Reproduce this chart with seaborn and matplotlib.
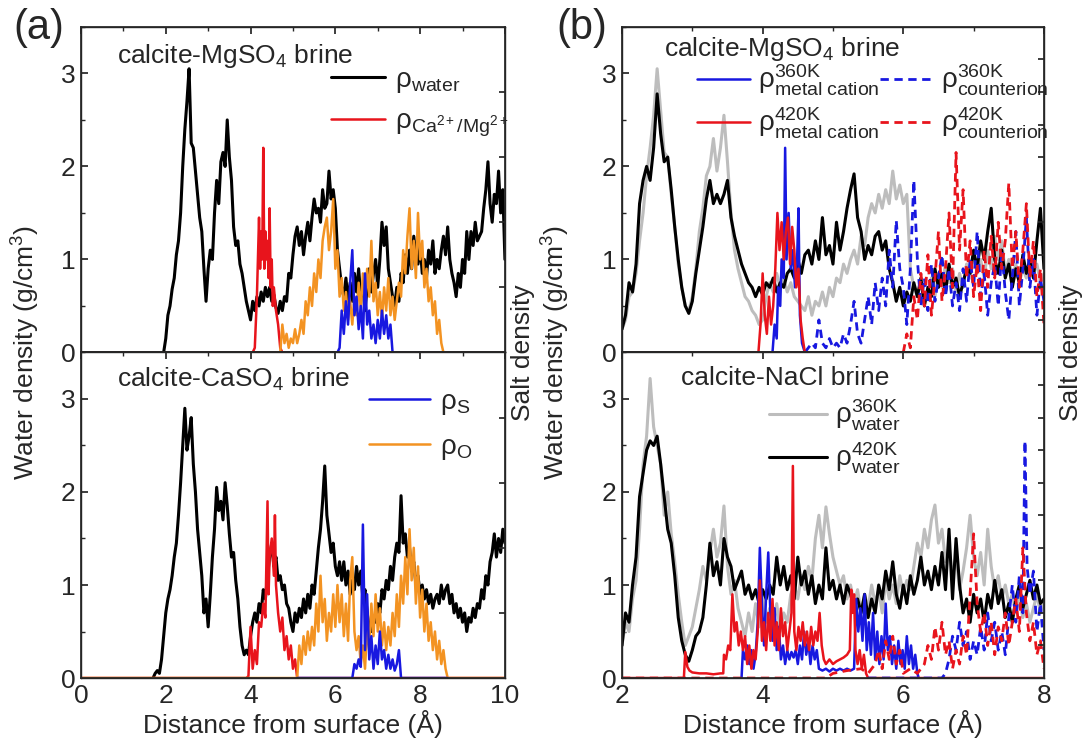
import numpy as np
import matplotlib
matplotlib.use("Agg")
import matplotlib.pyplot as plt
import seaborn as sns

# ---------------- panel (a): calcite-MgSO4 brine ----------------
a_mg_water_x = [1.95, 2.0, 2.05, 2.1, 2.15, 2.2, 2.25, 2.3, 2.35, 2.4, 2.45, 2.5, 2.55, 2.6, 2.65, 2.7, 2.75, 2.8, 2.85, 2.9,
                2.95, 3.0, 3.05, 3.1, 3.15, 3.2, 3.25, 3.3, 3.35, 3.4, 3.45, 3.5, 3.55, 3.6, 3.65, 3.7, 3.75, 3.8, 3.85, 3.9,
                3.95, 4.0, 4.05, 4.1, 4.15, 4.2, 4.25, 4.3, 4.35, 4.4, 4.45, 4.5, 4.55, 4.6, 4.65, 4.7, 4.75, 4.8, 4.85, 4.9,
                4.95, 5.0, 5.05, 5.1, 5.15, 5.2, 5.25, 5.3, 5.35, 5.4, 5.45, 5.5, 5.55, 5.6, 5.65, 5.7, 5.75, 5.8, 5.85, 5.9,
                5.95, 6.0, 6.05, 6.1, 6.15, 6.2, 6.25, 6.3, 6.35, 6.4, 6.45, 6.5, 6.55, 6.6, 6.65, 6.7, 6.75, 6.8, 6.85, 6.9,
                6.95, 7.0, 7.05, 7.1, 7.15, 7.2, 7.25, 7.3, 7.35, 7.4, 7.45, 7.5, 7.55, 7.6, 7.65, 7.7, 7.75, 7.8, 7.85, 7.9,
                7.95, 8.0, 8.05, 8.1, 8.15, 8.2, 8.25, 8.3, 8.35, 8.4, 8.45, 8.5, 8.55, 8.6, 8.65, 8.7, 8.75, 8.8, 8.85, 8.9,
                8.95, 9.0, 9.05, 9.1, 9.15, 9.2, 9.25, 9.3, 9.35, 9.4, 9.45, 9.5, 9.55, 9.6, 9.65, 9.7, 9.75, 9.8, 9.85, 9.9,
                9.95, 10.0]
a_mg_water_y = [0.0, 0.15, 0.4, 0.5, 0.68, 0.8, 1.05, 1.2, 1.5, 2.0, 2.4, 2.7, 3.05, 2.25, 2.2, 1.95, 1.7, 1.45, 1.3, 0.9,
                0.55, 0.9, 1.1, 1.0, 1.5, 1.85, 1.6, 2.05, 2.15, 2.0, 2.5, 2.1, 1.85, 1.35, 1.15, 1.2, 0.95, 0.85, 0.7, 0.55,
                0.45, 0.35, 0.55, 0.45, 0.6, 0.5, 0.65, 0.55, 0.7, 0.6, 0.7, 0.55, 0.62, 0.48, 0.42, 0.55, 0.45, 0.6, 0.55, 0.85,
                0.8, 1.05, 1.25, 1.35, 1.15, 1.3, 1.05, 1.25, 1.4, 1.2, 1.45, 1.65, 1.5, 1.55, 1.4, 1.75, 1.55, 1.6, 1.95, 1.65,
                1.75, 1.55, 1.1, 0.9, 0.7, 0.6, 0.8, 0.55, 0.75, 0.55, 0.85, 0.65, 0.9, 0.6, 0.7, 0.45, 0.7, 0.9, 0.65, 0.85,
                1.0, 0.7, 1.0, 1.4, 1.15, 1.35, 0.9, 0.75, 0.6, 0.5, 0.7, 0.55, 0.85, 0.75, 1.05, 0.85, 1.1, 0.9, 1.25, 1.05,
                0.95, 1.15, 0.85, 1.0, 0.8, 1.1, 0.95, 1.2, 0.85, 1.0, 0.9, 1.1, 1.25, 1.05, 1.35, 1.0, 0.85, 0.75, 0.6, 0.85,
                0.7, 1.0, 0.85, 1.3, 1.0, 1.3, 1.15, 1.4, 1.2, 1.25, 1.3, 1.55, 1.75, 2.05, 1.6, 1.4, 1.7, 1.6, 1.95, 1.5,
                1.75, 1.0]

a_mg_cation_x = [0.0, 4.05, 4.1, 4.15, 4.2, 4.225, 4.25, 4.275, 4.3, 4.325, 4.35, 4.375, 4.4, 4.425, 4.45, 4.475, 4.5,
                 4.525, 4.55, 4.6, 4.65, 4.7, 4.75, 10.0]
a_mg_cation_y = [0.0, 0.0, 0.05, 0.6, 1.45, 0.9, 1.3, 1.0, 2.2, 0.9, 1.3, 1.0, 1.2, 0.8, 1.55, 0.7, 1.0,
                 0.5, 0.7, 0.45, 0.3, 0.05, 0.0, 0.0]

a_mg_o_x = [0.0, 4.7, 4.75, 4.8, 4.85, 4.9, 4.95, 5.0, 5.05, 5.1, 5.15, 5.2, 5.25, 5.3, 5.35, 5.4, 5.45, 5.5, 5.55, 5.6,
            5.65, 5.7, 5.75, 5.8, 5.85, 5.9, 5.95, 6.0, 6.05, 6.1, 6.15, 6.2, 6.25, 6.3, 6.35, 6.4, 6.45, 6.5, 6.55, 6.6,
            6.65, 6.7, 6.75, 6.8, 6.85, 6.9, 6.95, 7.0, 7.05, 7.1, 7.15, 7.2, 7.25, 7.3, 7.35, 7.4, 7.45, 7.5, 7.55, 7.6,
            7.65, 7.7, 7.75, 7.8, 7.85, 7.9, 7.95, 8.0, 8.05, 8.1, 8.15, 8.2, 8.25, 8.3, 8.35, 8.4, 8.45, 8.5, 8.55, 10.0]
a_mg_o_y = [0.0, 0.0, 0.3, 0.1, 0.2, 0.05, 0.15, 0.1, 0.25, 0.1, 0.2, 0.35, 0.2, 0.55, 0.4, 0.7, 0.5, 0.85, 0.65, 1.0,
            0.8, 1.2, 1.35, 1.45, 1.1, 1.3, 1.65, 0.9, 1.1, 0.6, 0.8, 0.45, 0.65, 0.35, 0.55, 0.3, 0.6, 0.4, 0.75, 0.45,
            0.85, 0.5, 0.9, 0.6, 1.2, 0.55, 0.75, 0.4, 0.65, 0.35, 0.7, 0.45, 0.8, 0.4, 0.6, 0.35, 0.55, 0.75, 0.6, 1.1,
            0.85, 1.25, 1.55, 0.9, 1.2, 0.8, 1.5, 1.0, 1.2, 0.7, 0.9, 0.55, 0.7, 0.4, 0.55, 0.2, 0.35, 0.1, 0.0, 0.0]

a_mg_s_x = [4.7, 6.05, 6.1, 6.15, 6.2, 6.25, 6.3, 6.35, 6.4, 6.45, 6.5, 6.55, 6.6, 6.65, 6.7, 6.75, 6.8, 6.85, 6.9,
            6.95, 7.0, 7.05, 7.1, 7.15, 7.2, 7.25, 7.3, 7.35, 8.5]
a_mg_s_y = [0.0, 0.0, 0.05, 0.45, 0.2, 0.55, 0.3, 0.75, 1.1, 0.4, 0.6, 0.25, 0.5, 0.15, 0.85, 0.3, 0.45, 0.15, 0.3,
            0.1, 0.35, 0.15, 0.45, 0.2, 0.4, 0.15, 0.3, 0.0, 0.0]

# ---------------- panel (a): calcite-CaSO4 brine ----------------
a_ca_water_x = [1.7, 1.75, 1.8, 1.85, 1.9, 1.95, 2.0, 2.05, 2.1, 2.15, 2.2, 2.25, 2.3, 2.35, 2.4, 2.45, 2.5, 2.55, 2.6,
                2.65, 2.7, 2.75, 2.8, 2.85, 2.9, 2.95, 3.0, 3.05, 3.1, 3.15, 3.2, 3.25, 3.3, 3.35, 3.4, 3.45, 3.5, 3.55,
                3.6, 3.65, 3.7, 3.75, 3.8, 3.85, 3.9, 3.95, 4.0, 4.05, 4.1, 4.15, 4.2, 4.25, 4.3, 4.35, 4.4, 4.45, 4.5,
                4.55, 4.6, 4.65, 4.7, 4.75, 4.8, 4.85, 4.9, 4.95, 5.0, 5.05, 5.1, 5.15, 5.2, 5.25, 5.3, 5.35, 5.4, 5.45,
                5.5, 5.55, 5.6, 5.65, 5.7, 5.75, 5.8, 5.85, 5.9, 5.95, 6.0, 6.05, 6.1, 6.15, 6.2, 6.25, 6.3, 6.35, 6.4,
                6.45, 6.5, 6.55, 6.6, 6.65, 6.7, 6.75, 6.8, 6.85, 6.9, 6.95, 7.0, 7.05, 7.1, 7.15, 7.2, 7.25, 7.3, 7.35,
                7.4, 7.45, 7.5, 7.55, 7.6, 7.65, 7.7, 7.75, 7.8, 7.85, 7.9, 7.95, 8.0, 8.05, 8.1, 8.15, 8.2, 8.25, 8.3,
                8.35, 8.4, 8.45, 8.5, 8.55, 8.6, 8.65, 8.7, 8.75, 8.8, 8.85, 8.9, 8.95, 9.0, 9.05, 9.1, 9.15, 9.2, 9.25,
                9.3, 9.35, 9.4, 9.45, 9.5, 9.55, 9.6, 9.65, 9.7, 9.75, 9.8, 9.85, 9.9, 9.95, 10.0]
a_ca_water_y = [0.0, 0.05, 0.08, 0.05, 0.2, 0.45, 0.7, 0.85, 0.95, 1.1, 1.3, 1.45, 1.75, 2.1, 2.5, 2.9, 2.45, 2.6, 2.8,
                2.3, 2.0, 1.6, 1.35, 1.1, 0.7, 0.85, 0.55, 0.9, 1.3, 1.6, 2.05, 1.8, 1.9, 1.7, 2.1, 1.85, 1.55, 1.3,
                1.35, 1.05, 0.85, 0.55, 0.35, 0.25, 0.3, 0.25, 0.45, 0.6, 0.7, 0.6, 0.8, 0.7, 0.95, 0.85, 1.1, 1.3, 1.45,
                1.2, 1.3, 1.05, 1.1, 0.95, 1.0, 0.8, 0.75, 0.6, 0.5, 0.7, 0.6, 0.75, 0.65, 0.85, 0.7, 0.9, 0.75, 1.0,
                0.9, 1.15, 1.4, 1.6, 1.9, 2.28, 1.75, 1.55, 1.35, 1.45, 1.2, 1.1, 1.25, 1.05, 1.25, 1.0, 1.15, 0.9, 1.05,
                0.95, 1.2, 1.0, 1.15, 0.85, 0.95, 0.7, 0.55, 0.5, 0.65, 0.6, 0.8, 0.7, 0.95, 0.85, 1.05, 0.95, 1.2, 1.05,
                1.3, 1.45, 1.35, 1.96, 1.45, 1.55, 1.3, 1.4, 1.15, 1.25, 1.0, 1.1, 0.9, 1.0, 0.85, 0.95, 0.8, 0.9, 0.75,
                0.85, 0.9, 0.8, 1.0, 0.85, 0.95, 1.0, 0.8, 0.9, 0.7, 0.8, 0.65, 0.75, 0.6, 0.7, 0.5, 0.65, 0.6, 0.75,
                0.65, 0.8, 0.75, 0.95, 0.85, 1.1, 1.0, 1.25, 1.35, 1.55, 1.3, 1.5, 1.35, 1.6, 1.45]

a_ca_cation_x = [0.0, 3.9, 3.95, 4.0, 4.05, 4.1, 4.15, 4.2, 4.25, 4.3, 4.35, 4.4, 4.425, 4.45, 4.5, 4.55, 4.575, 4.6,
                 4.65, 4.7, 4.75, 4.8, 4.85, 4.9, 4.95, 5.0, 5.05, 5.1, 10.0]
a_ca_cation_y = [0.0, 0.0, 0.02, 0.55, 0.1, 0.3, 0.15, 0.6, 0.55, 0.8, 0.65, 1.9, 0.9, 1.3, 1.5, 1.1, 1.75, 1.0,
                 0.7, 0.5, 0.65, 0.3, 0.45, 0.2, 0.35, 0.1, 0.2, 0.0, 0.0]

a_ca_o_x = [0.0, 5.1, 5.15, 5.2, 5.25, 5.3, 5.35, 5.4, 5.45, 5.5, 5.55, 5.6, 5.65, 5.7, 5.75, 5.8, 5.85, 5.9, 5.95, 6.0,
            6.05, 6.1, 6.15, 6.2, 6.25, 6.3, 6.35, 6.4, 6.45, 6.5, 6.55, 6.6, 6.65, 6.7, 6.75, 6.8, 6.85, 6.9, 6.95, 7.0,
            7.05, 7.1, 7.15, 7.2, 7.25, 7.3, 7.35, 7.4, 7.45, 7.5, 7.55, 7.6, 7.65, 7.7, 7.75, 7.8, 7.85, 7.9, 7.95, 8.0,
            8.05, 8.1, 8.15, 8.2, 8.25, 8.3, 8.35, 8.4, 8.45, 8.5, 8.55, 8.6, 8.65, 10.0]
a_ca_o_y = [0.0, 0.0, 0.35, 0.15, 0.45, 0.25, 0.5, 0.3, 0.55, 0.35, 0.8, 0.5, 1.1, 0.6, 0.85, 0.4, 0.7, 0.5, 0.9, 0.55,
            1.0, 0.6, 0.9, 0.45, 0.8, 0.4, 1.05, 1.3, 0.5, 0.3, 0.45, 0.15, 0.35, 0.1, 0.55, 0.3, 0.8, 0.45, 0.9, 0.5,
            0.75, 0.35, 0.6, 0.3, 0.55, 0.35, 0.7, 0.45, 0.9, 0.55, 1.1, 0.8, 1.3, 0.9, 1.6, 1.05, 1.4, 0.8, 1.2, 0.65,
            0.95, 0.5, 0.8, 0.4, 0.6, 0.3, 0.5, 0.2, 0.4, 0.15, 0.3, 0.1, 0.0, 0.0]

a_ca_s_x = [5.1, 6.4, 6.45, 6.5, 6.55, 6.6, 6.65, 6.7, 6.75, 6.8, 6.85, 6.9, 6.95, 7.0, 7.05, 7.1, 7.15, 7.2, 7.25,
            7.3, 7.35, 7.4, 7.45, 7.5, 7.55, 8.65]
a_ca_s_y = [0.0, 0.0, 0.15, 0.1, 0.2, 0.12, 1.65, 0.3, 0.9, 0.2, 0.45, 0.1, 0.35, 0.15, 0.5, 0.2, 0.3, 0.1, 0.25,
            0.1, 0.2, 0.08, 0.15, 0.3, 0.0, 0.0]

# ---------------- panel (b): common 0.05 grid for water profiles ----------------
b_x = [2.0, 2.05, 2.1, 2.15, 2.2, 2.25, 2.3, 2.35, 2.4, 2.45, 2.5, 2.55, 2.6, 2.65, 2.7, 2.75, 2.8, 2.85, 2.9, 2.95,
       3.0, 3.05, 3.1, 3.15, 3.2, 3.25, 3.3, 3.35, 3.4, 3.45, 3.5, 3.55, 3.6, 3.65, 3.7, 3.75, 3.8, 3.85, 3.9, 3.95,
       4.0, 4.05, 4.1, 4.15, 4.2, 4.25, 4.3, 4.35, 4.4, 4.45, 4.5, 4.55, 4.6, 4.65, 4.7, 4.75, 4.8, 4.85, 4.9, 4.95,
       5.0, 5.05, 5.1, 5.15, 5.2, 5.25, 5.3, 5.35, 5.4, 5.45, 5.5, 5.55, 5.6, 5.65, 5.7, 5.75, 5.8, 5.85, 5.9, 5.95,
       6.0, 6.05, 6.1, 6.15, 6.2, 6.25, 6.3, 6.35, 6.4, 6.45, 6.5, 6.55, 6.6, 6.65, 6.7, 6.75, 6.8, 6.85, 6.9, 6.95,
       7.0, 7.05, 7.1, 7.15, 7.2, 7.25, 7.3, 7.35, 7.4, 7.45, 7.5, 7.55, 7.6, 7.65, 7.7, 7.75, 7.8, 7.85, 7.9, 7.95,
       8.0]

# calcite-MgSO4 brine
b_mg_water360 = [0.25, 0.35, 0.6, 0.65, 0.85, 1.2, 1.5, 1.9, 2.2, 2.55, 3.05, 2.6, 2.15, 2.1, 1.7, 1.35, 0.95, 0.7, 0.5, 0.45,
                 0.6, 0.9, 1.3, 1.55, 1.9, 2.0, 2.3, 1.95, 2.2, 2.55, 2.05, 1.5, 1.1, 0.9, 0.75, 0.6, 0.55, 0.45, 0.4, 0.3,
                 0.35, 0.6, 0.75, 0.65, 0.85, 0.7, 0.8, 0.65, 0.75, 0.6, 0.55, 0.5, 0.45, 0.6, 0.4, 0.55, 0.5, 0.65, 0.5, 0.7,
                 0.6, 0.8, 0.75, 0.95, 0.85, 1.0, 1.1, 0.95, 1.25, 1.15, 1.45, 1.6, 1.5, 1.7, 1.55, 1.75, 1.6, 1.95, 1.65, 1.8,
                 1.6, 1.7, 0.9, 0.7, 0.6, 0.75, 0.55, 0.65, 0.8, 0.6, 0.85, 0.7, 0.95, 0.75, 0.9, 0.65, 0.85, 0.7, 0.95, 0.8,
                 1.05, 0.85, 1.0, 0.8, 1.1, 0.9, 1.25, 1.0, 1.2, 0.85, 1.0, 0.8, 0.95, 0.75, 0.9, 0.8, 1.0, 0.85, 0.95, 0.75,
                 0.85]
b_mg_water420 = [0.25, 0.4, 0.75, 0.65, 0.95, 1.6, 1.85, 2.0, 1.85, 2.2, 2.78, 2.35, 2.05, 2.1, 1.75, 1.35, 1.0, 0.7, 0.5, 0.42,
                 0.55, 0.85, 1.1, 1.35, 1.65, 1.85, 1.6, 1.7, 1.6, 1.7, 1.85, 1.45, 1.25, 1.1, 0.95, 0.85, 0.75, 0.7, 0.6, 0.7,
                 0.62, 0.75, 0.7, 0.8, 0.65, 0.75, 0.7, 0.85, 0.9, 0.8, 1.0, 0.85, 1.05, 1.1, 0.95, 1.2, 1.0, 1.45, 1.05, 1.15,
                 0.95, 1.4, 1.1, 1.3, 1.55, 1.75, 1.92, 1.45, 1.3, 1.0, 1.15, 1.05, 1.25, 1.3, 1.1, 1.2, 0.9, 0.75, 0.55, 0.7,
                 0.5, 0.65, 0.55, 0.75, 0.6, 0.8, 0.5, 0.7, 0.6, 0.9, 0.7, 0.85, 0.65, 0.95, 0.7, 0.8, 0.6, 0.75, 0.9, 0.85,
                 1.1, 0.9, 1.2, 1.0, 1.3, 1.55, 1.0, 0.85, 1.1, 0.8, 0.95, 0.7, 0.9, 0.75, 1.05, 0.85, 1.0, 0.8, 1.2, 1.55,
                 0.9]

b_mg_cation360_x = [4.1, 4.14, 4.17, 4.2, 4.22, 4.25, 4.27, 4.3, 4.32, 4.34, 4.37, 4.4, 4.43, 4.46, 4.49, 4.51, 4.53, 4.56, 4.6]
b_mg_cation360_y = [0.0, 0.0, 0.3, 0.15, 0.7, 0.5, 1.0, 0.8, 2.2, 1.0, 1.5, 0.9, 1.1, 0.7, 1.0, 1.55, 0.4, 0.1, 0.0]

b_mg_cation420_x = [2.0, 3.94, 3.97, 4.0, 4.03, 4.06, 4.09, 4.12, 4.15, 4.18, 4.21, 4.24, 4.27, 4.3, 4.33, 4.36, 4.39,
                    4.42, 4.45, 4.48, 4.51, 4.54, 4.57, 4.6, 8.0]
b_mg_cation420_y = [0.0, 0.0, 0.3, 0.85, 0.4, 0.2, 0.6, 0.3, 0.5, 0.9, 1.5, 1.1, 1.4, 1.0, 1.3, 1.45, 0.95,
                    1.35, 1.1, 0.7, 0.9, 0.35, 0.15, 0.0, 0.0]

b_mg_counter360_x = [4.6, 4.65, 4.7, 4.75, 4.8, 4.85, 4.9, 4.95, 5.0, 5.05, 5.1, 5.15, 5.2, 5.25, 5.3, 5.35, 5.4, 5.45,
                     5.5, 5.55, 5.6, 5.65, 5.7, 5.75, 5.8, 5.85, 5.9, 5.95, 6.0, 6.05, 6.1, 6.15, 6.2, 6.25, 6.3, 6.35,
                     6.4, 6.45, 6.5, 6.55, 6.6, 6.65, 6.7, 6.75, 6.8, 6.85, 6.9, 6.95, 7.0, 7.05, 7.1, 7.15, 7.2, 7.25,
                     7.3, 7.35, 7.4, 7.45, 7.5, 7.55, 7.6, 7.65, 7.7, 7.75, 7.8, 7.85, 7.9, 7.95, 8.0]
b_mg_counter360_y = [0.0, 0.05, 0.1, 0.05, 0.35, 0.1, 0.05, 0.15, 0.05, 0.1, 0.05, 0.2, 0.1, 0.3, 0.55, 0.2, 0.1, 0.35,
                     0.6, 0.3, 0.75, 0.45, 0.8, 0.5, 1.1, 0.7, 1.42, 0.9, 0.7, 0.3, 0.9, 1.85, 1.0, 0.5, 0.8, 0.45,
                     0.95, 0.55, 0.8, 1.05, 0.6, 0.9, 0.5, 0.75, 0.45, 0.9, 0.55, 1.0, 0.7, 1.3, 0.6, 0.85, 0.4, 0.75,
                     0.95, 0.5, 1.1, 0.65, 0.35, 0.8, 1.3, 0.5, 0.9, 1.45, 0.7, 1.0, 0.4, 0.8, 0.55]

b_mg_counter420_x = [6.0, 6.05, 6.1, 6.15, 6.2, 6.25, 6.3, 6.35, 6.4, 6.45, 6.5, 6.55, 6.6, 6.65, 6.7, 6.75, 6.8, 6.85,
                     6.9, 6.95, 7.0, 7.05, 7.1, 7.15, 7.2, 7.25, 7.3, 7.35, 7.4, 7.45, 7.5, 7.55, 7.6, 7.65, 7.7, 7.75,
                     7.8, 7.85, 7.9, 7.95, 8.0]
b_mg_counter420_y = [0.0, 0.2, 0.05, 0.6, 0.35, 0.85, 0.5, 1.05, 0.4, 0.8, 1.3, 0.55, 0.9, 1.5, 0.7, 2.15, 1.1, 1.75,
                     0.8, 1.2, 0.6, 0.95, 0.45, 1.1, 0.7, 1.25, 0.8, 1.4, 0.9, 1.2, 1.82, 0.9, 1.3, 0.7, 1.1, 1.6,
                     0.8, 1.2, 0.6, 0.9, 0.3]

# calcite-NaCl brine
b_na_water360 = [0.35, 0.6, 0.5, 0.85, 1.05, 1.6, 2.3, 2.6, 3.22, 2.7, 2.5, 2.3, 1.75, 2.0, 1.55, 1.25, 0.9, 0.6, 0.35, 0.45,
                 0.55, 0.75, 0.95, 1.2, 1.05, 1.35, 1.6, 1.3, 1.45, 1.85, 1.2, 0.9, 1.05, 0.75, 0.6, 0.45, 0.7, 0.5, 0.8, 0.55,
                 0.9, 0.6, 0.75, 0.55, 0.8, 0.5, 0.7, 0.6, 0.9, 1.0, 0.85, 1.1, 0.95, 1.2, 1.05, 1.5, 1.75, 1.4, 1.84, 1.55,
                 1.3, 1.15, 1.0, 1.1, 0.85, 1.0, 0.8, 0.95, 0.7, 0.9, 0.75, 1.0, 0.8, 0.95, 0.7, 1.05, 0.85, 1.0, 0.8, 1.1,
                 0.9, 1.05, 0.95, 1.2, 1.45, 1.3, 1.6, 1.4, 1.7, 1.86, 1.45, 1.6, 1.25, 1.4, 1.1, 1.3, 0.95, 1.15, 1.4, 1.75,
                 1.3, 1.1, 1.35, 1.0, 1.6, 1.2, 0.95, 1.1, 0.85, 1.0, 0.8, 0.9, 0.7, 0.85, 0.65, 0.8, 0.6, 0.75, 0.9, 0.7,
                 0.8]
b_na_water420 = [0.35, 0.7, 0.6, 1.0, 1.3, 1.95, 2.2, 2.45, 2.55, 2.5, 2.6, 2.3, 1.95, 1.6, 1.45, 1.1, 0.65, 0.4, 0.25, 0.18,
                 0.3, 0.45, 0.5, 0.65, 1.0, 1.45, 1.1, 1.25, 1.0, 1.5, 1.3, 1.2, 0.95, 1.05, 1.15, 0.9, 1.0, 0.85, 0.95, 0.8,
                 0.95, 0.85, 1.0, 0.9, 1.3, 1.0, 1.2, 0.95, 1.1, 0.85, 1.3, 1.0, 1.15, 0.9, 1.1, 0.8, 1.0, 0.85, 1.4, 0.95,
                 1.05, 0.85, 1.0, 0.8, 1.0, 0.9, 0.75, 0.85, 0.7, 0.9, 0.65, 0.85, 0.7, 1.0, 0.85, 1.15, 0.95, 1.25, 0.9, 0.75,
                 1.0, 0.8, 1.1, 0.9, 1.05, 1.3, 1.0, 1.15, 0.95, 1.2, 1.0, 1.35, 0.95, 1.6, 0.85, 1.5, 1.0, 0.7, 0.85, 0.6,
                 0.9, 0.7, 0.85, 0.6, 0.9, 0.75, 1.05, 0.8, 0.95, 0.65, 0.8, 0.6, 0.85, 1.0, 0.75, 0.9, 1.05, 0.85, 1.0, 0.8,
                 0.85]

b_na_cation360_x = [3.7, 3.72, 3.75, 3.78, 3.81, 3.84, 3.87, 3.9, 3.93, 3.96, 3.99, 4.02, 4.05, 4.08, 4.11, 4.14, 4.17,
                    4.2, 4.23, 4.26, 4.29, 4.32, 4.35, 4.38, 4.41, 4.44, 4.47, 4.5, 4.53, 4.56, 4.59, 4.62, 4.65, 4.68,
                    4.71, 4.74, 4.77, 4.8, 4.85, 4.9, 4.95, 5.0, 5.05, 5.1, 5.15, 5.2, 5.25, 5.3, 5.33, 5.36, 5.39, 5.42,
                    5.45, 5.48, 5.51, 5.54, 5.57, 5.6, 5.63, 5.66, 5.69, 5.72, 5.75, 5.78, 5.81, 5.84, 5.87, 5.9, 5.93,
                    5.96, 5.99, 6.02, 6.05, 6.08, 6.11, 6.14, 6.17, 6.2, 6.22]
b_na_cation360_y = [0.0, 0.3, 0.2, 0.35, 0.15, 0.3, 0.1, 0.25, 0.6, 1.4, 0.8, 0.35, 0.9, 1.35, 0.7, 0.4, 0.75,
                    0.3, 0.55, 0.2, 0.35, 0.15, 0.3, 0.2, 0.28, 0.22, 0.3, 0.15, 0.35, 0.2, 0.5, 0.25, 0.4, 0.15,
                    0.35, 0.2, 0.3, 0.1, 0.08, 0.1, 0.07, 0.1, 0.08, 0.1, 0.08, 0.1, 0.08, 0.1, 0.85, 0.5, 0.75, 0.4,
                    0.9, 0.3, 0.6, 0.25, 0.7, 0.2, 0.5, 0.15, 0.45, 0.2, 0.8, 0.3, 0.45, 0.15, 0.35, 0.1, 0.4,
                    0.15, 0.3, 0.1, 0.45, 0.15, 0.35, 0.1, 0.25, 0.05, 0.0]

b_na_cation420_x = [2.0, 2.88, 2.9, 2.93, 2.96, 3.0, 3.1, 3.2, 3.3, 3.4, 3.44, 3.45, 3.48, 3.51, 3.54, 3.57, 3.6, 3.63,
                    3.66, 3.69, 3.72, 3.75, 3.78, 3.81, 3.84, 3.87, 3.9, 3.93, 3.96, 3.99, 4.02, 4.05, 4.08, 4.11, 4.14,
                    4.17, 4.2, 4.23, 4.26, 4.29, 4.32, 4.35, 4.38, 4.41, 4.43, 4.45, 4.48, 4.51, 4.54, 4.57, 4.6, 4.63,
                    4.66, 4.69, 4.72, 4.75, 4.78, 4.81, 4.84, 4.87, 4.9, 4.95, 5.0, 5.05, 5.1, 5.15, 5.2, 5.24, 5.26,
                    5.28, 5.3, 5.32, 5.35, 5.38, 5.41, 5.44, 5.47, 5.5, 8.0]
b_na_cation420_y = [0.0, 0.0, 0.28, 0.12, 0.08, 0.06, 0.05, 0.05, 0.04, 0.05, 0.05, 0.25, 0.2, 0.35, 0.3, 0.9, 0.5, 0.6,
                    0.35, 0.5, 0.3, 0.45, 0.15, 0.35, 0.1, 0.3, 0.2, 0.5, 1.05, 0.4, 0.6, 0.3, 0.7, 0.4, 0.85,
                    0.35, 0.6, 0.3, 0.75, 0.45, 0.6, 0.3, 0.5, 0.7, 2.28, 0.5, 0.3, 0.55, 0.4, 0.6, 0.35, 0.5,
                    0.3, 0.55, 0.35, 0.5, 0.4, 0.7, 0.35, 0.2, 0.15, 0.2, 0.15, 0.18, 0.2, 0.22, 0.25, 0.3, 0.95,
                    0.7, 0.9, 0.3, 0.15, 0.3, 0.1, 0.25, 0.05, 0.0, 0.0]

b_na_counter360_x = [5.5, 6.55, 6.6, 6.65, 6.7, 6.75, 6.8, 6.85, 6.9, 6.95, 7.0, 7.05, 7.1, 7.15, 7.2, 7.25, 7.3, 7.35,
                     7.4, 7.45, 7.5, 7.55, 7.6, 7.65, 7.7, 7.73, 7.76, 7.8, 7.85, 7.9, 7.95, 8.0]
b_na_counter360_y = [0.0, 0.0, 0.05, 0.2, 0.45, 0.3, 0.6, 0.35, 0.5, 0.2, 0.4, 0.25, 0.55, 0.3, 0.7, 0.4, 0.6, 0.3,
                     0.5, 0.25, 0.65, 1.0, 0.6, 1.1, 0.7, 2.55, 1.2, 0.9, 1.15, 0.5, 0.8, 0.3]

b_na_counter420_x = [2.0, 4.9, 5.0, 5.2, 5.4, 5.5, 5.6, 5.65, 5.7, 5.75, 5.8, 5.85, 5.9, 5.95, 6.0, 6.1, 6.2, 6.3, 6.35,
                     6.4, 6.45, 6.5, 6.55, 6.6, 6.65, 6.7, 6.75, 6.8, 6.85, 6.9, 6.95, 7.0, 7.05, 7.1, 7.15, 7.2, 7.25,
                     7.3, 7.35, 7.4, 7.45, 7.5, 7.55, 7.6, 7.65, 7.7, 7.75, 7.8, 7.85, 7.9, 7.95, 8.0]
b_na_counter420_y = [0.0, 0.0, 0.05, 0.08, 0.1, 0.05, 0.15, 0.3, 0.1, 0.4, 0.2, 0.45, 0.15, 0.3, 0.05, 0.1, 0.05, 0.15, 0.35,
                     0.2, 0.55, 0.3, 0.6, 0.25, 0.4, 0.1, 0.3, 0.15, 0.45, 0.25, 0.9, 1.55, 0.8, 0.5, 0.7, 0.35, 0.6,
                     0.25, 0.55, 0.4, 0.7, 0.35, 0.6, 0.85, 0.5, 1.4, 0.7, 0.4, 0.6, 0.25, 0.4, 0.1]

BLACK = "#000000"
RED = "#e8141c"
BLUE = "#1818e0"
ORANGE = "#f39322"
GRAY = "#bdbdbd"
DASH = (0, (3.0, 2.0))
FS = 19


def line(ax, x, y, color, lw=1.8, ls="-"):
    sns.lineplot(x=x, y=y, ax=ax, color=color, lw=lw, linestyle=ls,
                 sort=False, estimator=None, legend=False)
    return ax.lines[-1]


def style_axes(ax, xlim, major, minor, show_xlabels, twin_ticks):
    ax.set_xlim(*xlim)
    ax.set_ylim(0, 3.5)
    ax.set_xticks(major)
    ax.set_xticks(minor, minor=True)
    ax.set_yticks([0, 1, 2, 3])
    ax.set_yticks([0.5, 1.5, 2.5, 3.5], minor=True)
    ax.tick_params(which="both", direction="in", top=True, right=False, labelsize=FS, pad=4)
    ax.tick_params(which="major", length=5)
    ax.tick_params(which="minor", length=3)
    if not show_xlabels:
        ax.tick_params(labelbottom=False)
    for s in ax.spines.values():
        s.set_linewidth(1.0)
    tw = ax.twinx()
    tw.set_ylim(0, 1)
    tw.set_yticks(twin_ticks)
    tw.tick_params(direction="in", length=4, labelright=False)


def legend(ax, handles, labels, anchor, **kw):
    opts = dict(loc="upper left", bbox_to_anchor=anchor, frameon=False, fontsize=20,
                handletextpad=0.35, borderpad=0, borderaxespad=0)
    opts.update(kw)
    ax.legend(handles, labels, **opts)


sns.set_theme(style="white")
plt.rcParams["font.family"] = ["Liberation Sans", "DejaVu Sans"]
plt.rcParams["mathtext.fontset"] = "custom"
plt.rcParams["mathtext.rm"] = "Liberation Sans"
plt.rcParams["mathtext.it"] = "Liberation Sans:italic"
plt.rcParams["mathtext.bf"] = "Liberation Sans:bold"

fig = plt.figure(figsize=(10.87, 7.45), dpi=100)
H = 0.437
ax_a1 = fig.add_axes([0.0745, 0.0899 + H, 0.390, H])
ax_a2 = fig.add_axes([0.0745, 0.0899, 0.390, H])
ax_b1 = fig.add_axes([0.5722, 0.0899 + H, 0.3882, H])
ax_b2 = fig.add_axes([0.5722, 0.0899, 0.3882, H])

# panel (a) top
h_w = line(ax_a1, a_mg_water_x, a_mg_water_y, BLACK, lw=2.2)
h_c = line(ax_a1, a_mg_cation_x, a_mg_cation_y, RED)
line(ax_a1, a_mg_o_x, a_mg_o_y, ORANGE)
line(ax_a1, a_mg_s_x, a_mg_s_y, BLUE)
legend(ax_a1, [h_w, h_c], [r"ρ$_{\mathrm{water}}$", r"ρ$_{\mathrm{Ca^{2+}/Mg^{2+}}}$"], (0.59, 0.878),
       handlelength=1.95, labelspacing=0.5)
ax_a1.text(0.085, 0.89, r"calcite-MgSO$_4$ brine", transform=ax_a1.transAxes, fontsize=FS, va="baseline")

# panel (a) bottom
line(ax_a2, a_ca_water_x, a_ca_water_y, BLACK, lw=2.2)
line(ax_a2, a_ca_cation_x, a_ca_cation_y, RED)
h_o = line(ax_a2, a_ca_o_x, a_ca_o_y, ORANGE)
h_s = line(ax_a2, a_ca_s_x, a_ca_s_y, BLUE)
legend(ax_a2, [h_s, h_o], [r"ρ$_{\mathrm{S}}$", r"ρ$_{\mathrm{O}}$"], (0.68, 0.888),
       handlelength=2.2, labelspacing=0.6)
ax_a2.text(0.085, 0.895, r"calcite-CaSO$_4$ brine", transform=ax_a2.transAxes, fontsize=FS, va="baseline")

# panel (b) top
line(ax_b1, b_x, b_mg_water360, GRAY, lw=2.2)
line(ax_b1, b_x, b_mg_water420, BLACK, lw=2.2)
h_bd = line(ax_b1, b_mg_counter360_x, b_mg_counter360_y, BLUE, lw=2.0, ls=DASH)
h_rd = line(ax_b1, b_mg_counter420_x, b_mg_counter420_y, RED, lw=2.0, ls=DASH)
h_bs = line(ax_b1, b_mg_cation360_x, b_mg_cation360_y, BLUE)
h_rs = line(ax_b1, b_mg_cation420_x, b_mg_cation420_y, RED)
legend(ax_b1, [h_bs, h_rs, h_bd, h_rd],
       [r"$\mathrm{\rho}^{\mathrm{360K}}_{\mathrm{metal\ cation}}$",
        r"$\mathrm{\rho}^{\mathrm{420K}}_{\mathrm{metal\ cation}}$",
        r"$\mathrm{\rho}^{\mathrm{360K}}_{\mathrm{counterion}}$",
        r"$\mathrm{\rho}^{\mathrm{420K}}_{\mathrm{counterion}}$"],
       (0.178, 0.89), ncol=2, handlelength=1.9, handletextpad=0.3, labelspacing=0.28, columnspacing=0.0)
ax_b1.text(0.099, 0.91, r"calcite-MgSO$_4$ brine", transform=ax_b1.transAxes, fontsize=FS, va="baseline")

# panel (b) bottom
h_g = line(ax_b2, b_x, b_na_water360, GRAY, lw=2.2)
h_k = line(ax_b2, b_x, b_na_water420, BLACK, lw=2.2)
line(ax_b2, b_na_cation360_x, b_na_cation360_y, BLUE)
line(ax_b2, b_na_cation420_x, b_na_cation420_y, RED)
line(ax_b2, b_na_counter360_x, b_na_counter360_y, BLUE, lw=2.0, ls=DASH)
line(ax_b2, b_na_counter420_x, b_na_counter420_y, RED, lw=2.0, ls=DASH)
legend(ax_b2, [h_g, h_k],
       [r"$\mathrm{\rho}^{\mathrm{360K}}_{\mathrm{water}}$",
        r"$\mathrm{\rho}^{\mathrm{420K}}_{\mathrm{water}}$"],
       (0.348, 0.86), handlelength=2.1, handletextpad=0.3, labelspacing=0.28)
ax_b2.text(0.14, 0.899, "calcite-NaCl brine", transform=ax_b2.transAxes, fontsize=FS, va="baseline")

ticks_a = [0.2, 0.4, 0.6, 0.8]
ticks_b = [0.1, 0.2, 0.3, 0.4, 0.5, 0.6, 0.7, 0.8, 0.9]
style_axes(ax_a1, (0, 10), [0, 2, 4, 6, 8, 10], [1, 3, 5, 7, 9], False, ticks_a)
style_axes(ax_a2, (0, 10), [0, 2, 4, 6, 8, 10], [1, 3, 5, 7, 9], True, ticks_a)
style_axes(ax_b1, (2, 8), [2, 4, 6, 8], [3, 5, 7], False, ticks_b)
style_axes(ax_b2, (2, 8), [2, 4, 6, 8], [3, 5, 7], True, ticks_b)

ax_a2.set_xlabel("Distance from surface (Å)", fontsize=FS, labelpad=2)
ax_b2.set_xlabel("Distance from surface (Å)", fontsize=FS, labelpad=2)

fig.text(0.024, 0.527, r"Water density (g/cm$^3$)", rotation=90, ha="center", va="center", fontsize=FS)
fig.text(0.481, 0.527, "Salt density", rotation=90, ha="center", va="center", fontsize=FS)
fig.text(0.511, 0.527, r"Water density (g/cm$^3$)", rotation=90, ha="center", va="center", fontsize=FS)
fig.text(0.985, 0.527, "Salt density", rotation=90, ha="center", va="center", fontsize=FS)

fig.text(0.012, 0.963, "(a)", fontsize=30, va="center")
fig.text(0.512, 0.963, "(b)", fontsize=30, va="center")

fig.savefig("out.png", dpi=100)
